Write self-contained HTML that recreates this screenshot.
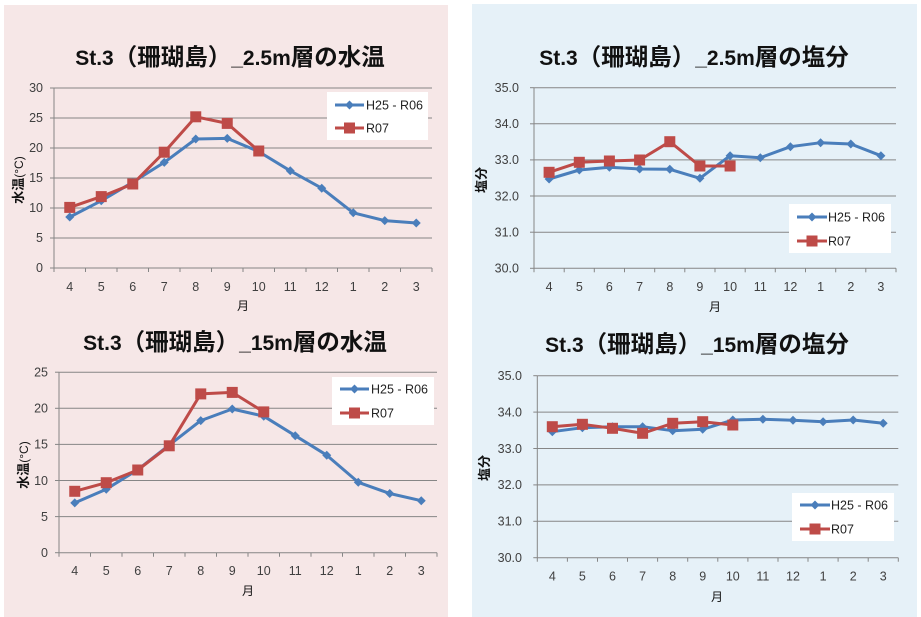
<!DOCTYPE html>
<html><head><meta charset="utf-8">
<style>
html,body{margin:0;padding:0;background:#fff;}
svg{display:block;}
text{font-family:"Liberation Sans","Noto Sans CJK JP",sans-serif;}
.t{font-size:21px;font-weight:bold;fill:#111;}
.t .c{font-size:23.5px;}
.tk{font-size:12.5px;fill:#404040;}
.ax{font-size:12px;fill:#111;}
.yl{font-size:13px;font-weight:bold;fill:#111;}
.lg{font-size:12.5px;fill:#222;}
.grid{stroke:#868686;stroke-width:1;}
.b{fill:none;stroke:#4A7EBB;stroke-width:3;stroke-linejoin:round;}
.r{fill:none;stroke:#BE4B48;stroke-width:3;stroke-linejoin:round;}
</style></head>
<body>
<svg width="921" height="617" viewBox="0 0 921 617" xmlns="http://www.w3.org/2000/svg">
<defs>
<path id="dm" d="M0,-4.5 L4.5,0 L0,4.5 L-4.5,0 Z" fill="#4A7EBB"/>
<rect id="sq" x="-5.5" y="-5.5" width="11" height="11" fill="#BE4B48"/>
</defs>
<rect x="4" y="5" width="444" height="612" fill="#F6E7E7"/>
<rect x="472" y="4" width="445" height="613" fill="#E6F1F8"/>

<!-- ===== TL: 2.5m 水温 ===== -->
<text class="t" x="230" y="65" text-anchor="middle">St.3<tspan class="c">（珊瑚島）</tspan>_2.5m<tspan class="c">層の水温</tspan></text>
<g class="grid">
<line x1="54" y1="88" x2="432" y2="88"/><line x1="54" y1="118" x2="432" y2="118"/>
<line x1="54" y1="148" x2="432" y2="148"/><line x1="54" y1="178" x2="432" y2="178"/>
<line x1="54" y1="208" x2="432" y2="208"/><line x1="54" y1="238" x2="432" y2="238"/>
<line x1="54" y1="268" x2="432" y2="268"/><line x1="54" y1="88" x2="54" y2="268"/>
<line x1="50" y1="88" x2="54" y2="88"/><line x1="50" y1="118" x2="54" y2="118"/><line x1="50" y1="148" x2="54" y2="148"/><line x1="50" y1="178" x2="54" y2="178"/><line x1="50" y1="208" x2="54" y2="208"/><line x1="50" y1="238" x2="54" y2="238"/><line x1="50" y1="268" x2="54" y2="268"/>
<line x1="54" y1="268" x2="54" y2="272"/><line x1="85.5" y1="268" x2="85.5" y2="272"/><line x1="117" y1="268" x2="117" y2="272"/><line x1="148.5" y1="268" x2="148.5" y2="272"/><line x1="180" y1="268" x2="180" y2="272"/><line x1="211.5" y1="268" x2="211.5" y2="272"/><line x1="243" y1="268" x2="243" y2="272"/><line x1="274.5" y1="268" x2="274.5" y2="272"/><line x1="306" y1="268" x2="306" y2="272"/><line x1="337.5" y1="268" x2="337.5" y2="272"/><line x1="369" y1="268" x2="369" y2="272"/><line x1="400.5" y1="268" x2="400.5" y2="272"/><line x1="432" y1="268" x2="432" y2="272"/>
</g>
<g class="tk" text-anchor="end">
<text x="43" y="92">30</text><text x="43" y="122">25</text><text x="43" y="152">20</text><text x="43" y="182">15</text><text x="43" y="212">10</text><text x="43" y="242">5</text><text x="43" y="272">0</text>
</g>
<g class="tk" text-anchor="middle">
<text x="69.75" y="291">4</text><text x="101.25" y="291">5</text><text x="132.75" y="291">6</text><text x="164.25" y="291">7</text><text x="195.75" y="291">8</text><text x="227.25" y="291">9</text><text x="258.75" y="291">10</text><text x="290.25" y="291">11</text><text x="321.75" y="291">12</text><text x="353.25" y="291">1</text><text x="384.75" y="291">2</text><text x="416.25" y="291">3</text>
</g>
<text class="ax" x="243" y="310" text-anchor="middle">月</text>
<text class="yl" transform="translate(23,180) rotate(-90)" text-anchor="middle">水温<tspan font-weight="normal" font-size="12">(°C)</tspan></text>
<polyline class="b" points="69.75,217 101.25,200.8 132.75,182.2 164.25,162.4 195.75,139 227.25,138.4 258.75,151.6 290.25,170.8 321.75,188.2 353.25,212.8 384.75,220.6 416.25,223"/>
<g><use href="#dm" x="69.75" y="217"/><use href="#dm" x="101.25" y="200.8"/><use href="#dm" x="132.75" y="182.2"/><use href="#dm" x="164.25" y="162.4"/><use href="#dm" x="195.75" y="139"/><use href="#dm" x="227.25" y="138.4"/><use href="#dm" x="258.75" y="151.6"/><use href="#dm" x="290.25" y="170.8"/><use href="#dm" x="321.75" y="188.2"/><use href="#dm" x="353.25" y="212.8"/><use href="#dm" x="384.75" y="220.6"/><use href="#dm" x="416.25" y="223"/></g>
<polyline class="r" points="69.75,207.4 101.25,196.6 132.75,184 164.25,152.2 195.75,116.8 227.25,123.4 258.75,151"/>
<g><use href="#sq" x="69.75" y="207.4"/><use href="#sq" x="101.25" y="196.6"/><use href="#sq" x="132.75" y="184"/><use href="#sq" x="164.25" y="152.2"/><use href="#sq" x="195.75" y="116.8"/><use href="#sq" x="227.25" y="123.4"/><use href="#sq" x="258.75" y="151"/></g>
<rect x="327" y="92" width="101" height="48" fill="#fff"/>
<line x1="335" y1="105" x2="364" y2="105" stroke="#4A7EBB" stroke-width="3"/><use href="#dm" x="349.5" y="105"/>
<line x1="335" y1="128" x2="364" y2="128" stroke="#BE4B48" stroke-width="3"/><use href="#sq" x="349.5" y="128"/>
<text class="lg" x="366" y="109.5">H25 - R06</text><text class="lg" x="366" y="132.5">R07</text>

<!-- ===== BL: 15m 水温 ===== -->
<text class="t" x="235" y="350" text-anchor="middle">St.3<tspan class="c">（珊瑚島）</tspan>_15m<tspan class="c">層の水温</tspan></text>
<g class="grid">
<line x1="59" y1="372.2" x2="437" y2="372.2"/><line x1="59" y1="408.3" x2="437" y2="408.3"/>
<line x1="59" y1="444.4" x2="437" y2="444.4"/><line x1="59" y1="480.5" x2="437" y2="480.5"/>
<line x1="59" y1="516.6" x2="437" y2="516.6"/><line x1="59" y1="552.7" x2="437" y2="552.7"/>
<line x1="59" y1="372.2" x2="59" y2="552.7"/>
<line x1="55" y1="372.2" x2="59" y2="372.2"/><line x1="55" y1="408.3" x2="59" y2="408.3"/><line x1="55" y1="444.4" x2="59" y2="444.4"/><line x1="55" y1="480.5" x2="59" y2="480.5"/><line x1="55" y1="516.6" x2="59" y2="516.6"/><line x1="55" y1="552.7" x2="59" y2="552.7"/>
<line x1="59" y1="552.7" x2="59" y2="556.7"/><line x1="90.5" y1="552.7" x2="90.5" y2="556.7"/><line x1="122" y1="552.7" x2="122" y2="556.7"/><line x1="153.5" y1="552.7" x2="153.5" y2="556.7"/><line x1="185" y1="552.7" x2="185" y2="556.7"/><line x1="216.5" y1="552.7" x2="216.5" y2="556.7"/><line x1="248" y1="552.7" x2="248" y2="556.7"/><line x1="279.5" y1="552.7" x2="279.5" y2="556.7"/><line x1="311" y1="552.7" x2="311" y2="556.7"/><line x1="342.5" y1="552.7" x2="342.5" y2="556.7"/><line x1="374" y1="552.7" x2="374" y2="556.7"/><line x1="405.5" y1="552.7" x2="405.5" y2="556.7"/><line x1="437" y1="552.7" x2="437" y2="556.7"/>
</g>
<g class="tk" text-anchor="end">
<text x="48" y="376.5">25</text><text x="48" y="412.6">20</text><text x="48" y="448.7">15</text><text x="48" y="484.8">10</text><text x="48" y="520.9">5</text><text x="48" y="557">0</text>
</g>
<g class="tk" text-anchor="middle">
<text x="74.75" y="575">4</text><text x="106.25" y="575">5</text><text x="137.75" y="575">6</text><text x="169.25" y="575">7</text><text x="200.75" y="575">8</text><text x="232.25" y="575">9</text><text x="263.75" y="575">10</text><text x="295.25" y="575">11</text><text x="326.75" y="575">12</text><text x="358.25" y="575">1</text><text x="389.75" y="575">2</text><text x="421.25" y="575">3</text>
</g>
<text class="ax" x="248" y="595" text-anchor="middle">月</text>
<text class="yl" transform="translate(28,465) rotate(-90)" text-anchor="middle">水温<tspan font-weight="normal" font-size="12">(°C)</tspan></text>
<polyline class="b" points="74.75,502.9 106.25,489.2 137.75,469.7 169.25,445.1 200.75,420.6 232.25,409 263.75,416.2 295.25,435.7 326.75,455.2 358.25,482.3 389.75,493.5 421.25,500.7"/>
<g><use href="#dm" x="74.75" y="502.9"/><use href="#dm" x="106.25" y="489.2"/><use href="#dm" x="137.75" y="469.7"/><use href="#dm" x="169.25" y="445.1"/><use href="#dm" x="200.75" y="420.6"/><use href="#dm" x="232.25" y="409"/><use href="#dm" x="263.75" y="416.2"/><use href="#dm" x="295.25" y="435.7"/><use href="#dm" x="326.75" y="455.2"/><use href="#dm" x="358.25" y="482.3"/><use href="#dm" x="389.75" y="493.5"/><use href="#dm" x="421.25" y="500.7"/></g>
<polyline class="r" points="74.75,491.3 106.25,482.7 137.75,470 169.25,445.8 200.75,393.9 232.25,392.4 263.75,411.9"/>
<g><use href="#sq" x="74.75" y="491.3"/><use href="#sq" x="106.25" y="482.7"/><use href="#sq" x="137.75" y="470"/><use href="#sq" x="169.25" y="445.8"/><use href="#sq" x="200.75" y="393.9"/><use href="#sq" x="232.25" y="392.4"/><use href="#sq" x="263.75" y="411.9"/></g>
<rect x="332" y="377" width="102" height="48" fill="#fff"/>
<line x1="340" y1="389" x2="369" y2="389" stroke="#4A7EBB" stroke-width="3"/><use href="#dm" x="354.5" y="389"/>
<line x1="340" y1="413" x2="369" y2="413" stroke="#BE4B48" stroke-width="3"/><use href="#sq" x="354.5" y="413"/>
<text class="lg" x="371" y="393.5">H25 - R06</text><text class="lg" x="371" y="417.5">R07</text>

<!-- ===== TR: 2.5m 塩分 ===== -->
<text class="t" x="694" y="65" text-anchor="middle">St.3<tspan class="c">（珊瑚島）</tspan>_2.5m<tspan class="c">層の塩分</tspan></text>
<g class="grid">
<line x1="534" y1="87.7" x2="896" y2="87.7"/><line x1="534" y1="123.8" x2="896" y2="123.8"/>
<line x1="534" y1="159.9" x2="896" y2="159.9"/><line x1="534" y1="196" x2="896" y2="196"/>
<line x1="534" y1="232.2" x2="896" y2="232.2"/><line x1="534" y1="268.3" x2="896" y2="268.3"/>
<line x1="534" y1="87.7" x2="534" y2="268.3"/>
<line x1="530" y1="87.7" x2="534" y2="87.7"/><line x1="530" y1="123.8" x2="534" y2="123.8"/><line x1="530" y1="159.9" x2="534" y2="159.9"/><line x1="530" y1="196" x2="534" y2="196"/><line x1="530" y1="232.2" x2="534" y2="232.2"/><line x1="530" y1="268.3" x2="534" y2="268.3"/>
<line x1="534" y1="268.3" x2="534" y2="272.3"/><line x1="564.2" y1="268.3" x2="564.2" y2="272.3"/><line x1="594.3" y1="268.3" x2="594.3" y2="272.3"/><line x1="624.5" y1="268.3" x2="624.5" y2="272.3"/><line x1="654.7" y1="268.3" x2="654.7" y2="272.3"/><line x1="684.8" y1="268.3" x2="684.8" y2="272.3"/><line x1="715" y1="268.3" x2="715" y2="272.3"/><line x1="745.2" y1="268.3" x2="745.2" y2="272.3"/><line x1="775.3" y1="268.3" x2="775.3" y2="272.3"/><line x1="805.5" y1="268.3" x2="805.5" y2="272.3"/><line x1="835.7" y1="268.3" x2="835.7" y2="272.3"/><line x1="865.8" y1="268.3" x2="865.8" y2="272.3"/><line x1="896" y1="268.3" x2="896" y2="272.3"/>
</g>
<g class="tk" text-anchor="end">
<text x="519" y="92">35.0</text><text x="519" y="128.1">34.0</text><text x="519" y="164.2">33.0</text><text x="519" y="200.3">32.0</text><text x="519" y="236.5">31.0</text><text x="519" y="272.6">30.0</text>
</g>
<g class="tk" text-anchor="middle">
<text x="549.1" y="291">4</text><text x="579.3" y="291">5</text><text x="609.4" y="291">6</text><text x="639.6" y="291">7</text><text x="669.8" y="291">8</text><text x="699.9" y="291">9</text><text x="730.1" y="291">10</text><text x="760.3" y="291">11</text><text x="790.4" y="291">12</text><text x="820.6" y="291">1</text><text x="850.8" y="291">2</text><text x="880.9" y="291">3</text>
</g>
<text class="ax" x="715" y="311" text-anchor="middle">月</text>
<text class="yl" transform="translate(486,180) rotate(-90)" text-anchor="middle">塩分</text>
<polyline class="b" points="549.1,179 579.3,170 609.4,167.3 639.6,169 669.8,169.3 699.9,178.3 730.1,155.7 760.3,157.7 790.4,146.7 820.6,142.7 850.8,144 880.9,155.7"/>
<g><use href="#dm" x="549.1" y="179"/><use href="#dm" x="579.3" y="170"/><use href="#dm" x="609.4" y="167.3"/><use href="#dm" x="639.6" y="169"/><use href="#dm" x="669.8" y="169.3"/><use href="#dm" x="699.9" y="178.3"/><use href="#dm" x="730.1" y="155.7"/><use href="#dm" x="760.3" y="157.7"/><use href="#dm" x="790.4" y="146.7"/><use href="#dm" x="820.6" y="142.7"/><use href="#dm" x="850.8" y="144"/><use href="#dm" x="880.9" y="155.7"/></g>
<polyline class="r" points="549.1,172.3 579.3,162.3 609.4,161 639.6,160 669.8,141.7 699.9,166 730.1,166"/>
<g><use href="#sq" x="549.1" y="172.3"/><use href="#sq" x="579.3" y="162.3"/><use href="#sq" x="609.4" y="161"/><use href="#sq" x="639.6" y="160"/><use href="#sq" x="669.8" y="141.7"/><use href="#sq" x="699.9" y="166"/><use href="#sq" x="730.1" y="166"/></g>
<rect x="789" y="204" width="102" height="49" fill="#fff"/>
<line x1="797" y1="217" x2="827" y2="217" stroke="#4A7EBB" stroke-width="3"/><use href="#dm" x="812" y="217"/>
<line x1="797" y1="241" x2="827" y2="241" stroke="#BE4B48" stroke-width="3"/><use href="#sq" x="812" y="241"/>
<text class="lg" x="828" y="221.5">H25 - R06</text><text class="lg" x="828" y="245.5">R07</text>

<!-- ===== BR: 15m 塩分 ===== -->
<text class="t" x="697" y="352" text-anchor="middle">St.3<tspan class="c">（珊瑚島）</tspan>_15m<tspan class="c">層の塩分</tspan></text>
<g class="grid">
<line x1="537.3" y1="375.7" x2="898.3" y2="375.7"/><line x1="537.3" y1="412.1" x2="898.3" y2="412.1"/>
<line x1="537.3" y1="448.5" x2="898.3" y2="448.5"/><line x1="537.3" y1="484.9" x2="898.3" y2="484.9"/>
<line x1="537.3" y1="521.3" x2="898.3" y2="521.3"/><line x1="537.3" y1="557.7" x2="898.3" y2="557.7"/>
<line x1="537.3" y1="375.7" x2="537.3" y2="557.7"/>
<line x1="533.3" y1="375.7" x2="537.3" y2="375.7"/><line x1="533.3" y1="412.1" x2="537.3" y2="412.1"/><line x1="533.3" y1="448.5" x2="537.3" y2="448.5"/><line x1="533.3" y1="484.9" x2="537.3" y2="484.9"/><line x1="533.3" y1="521.3" x2="537.3" y2="521.3"/><line x1="533.3" y1="557.7" x2="537.3" y2="557.7"/>
<line x1="537.3" y1="557.7" x2="537.3" y2="561.7"/><line x1="567.4" y1="557.7" x2="567.4" y2="561.7"/><line x1="597.5" y1="557.7" x2="597.5" y2="561.7"/><line x1="627.5" y1="557.7" x2="627.5" y2="561.7"/><line x1="657.6" y1="557.7" x2="657.6" y2="561.7"/><line x1="687.7" y1="557.7" x2="687.7" y2="561.7"/><line x1="717.8" y1="557.7" x2="717.8" y2="561.7"/><line x1="747.9" y1="557.7" x2="747.9" y2="561.7"/><line x1="778" y1="557.7" x2="778" y2="561.7"/><line x1="808" y1="557.7" x2="808" y2="561.7"/><line x1="838.1" y1="557.7" x2="838.1" y2="561.7"/><line x1="868.2" y1="557.7" x2="868.2" y2="561.7"/><line x1="898.3" y1="557.7" x2="898.3" y2="561.7"/>
</g>
<g class="tk" text-anchor="end">
<text x="522" y="380">35.0</text><text x="522" y="416.4">34.0</text><text x="522" y="452.8">33.0</text><text x="522" y="489.2">32.0</text><text x="522" y="525.6">31.0</text><text x="522" y="562">30.0</text>
</g>
<g class="tk" text-anchor="middle">
<text x="552.3" y="580.5">4</text><text x="582.4" y="580.5">5</text><text x="612.5" y="580.5">6</text><text x="642.6" y="580.5">7</text><text x="672.7" y="580.5">8</text><text x="702.7" y="580.5">9</text><text x="732.8" y="580.5">10</text><text x="762.9" y="580.5">11</text><text x="793" y="580.5">12</text><text x="823.1" y="580.5">1</text><text x="853.2" y="580.5">2</text><text x="883.2" y="580.5">3</text>
</g>
<text class="ax" x="717" y="601" text-anchor="middle">月</text>
<text class="yl" transform="translate(489,468) rotate(-90)" text-anchor="middle">塩分</text>
<polyline class="b" points="552.3,431.7 582.4,427.7 612.5,426.7 642.6,426.7 672.7,430.7 702.7,429.3 732.8,420 762.9,419.3 793,420.3 823.1,421.7 853.2,420 883.2,423.3"/>
<g><use href="#dm" x="552.3" y="431.7"/><use href="#dm" x="582.4" y="427.7"/><use href="#dm" x="612.5" y="426.7"/><use href="#dm" x="642.6" y="426.7"/><use href="#dm" x="672.7" y="430.7"/><use href="#dm" x="702.7" y="429.3"/><use href="#dm" x="732.8" y="420"/><use href="#dm" x="762.9" y="419.3"/><use href="#dm" x="793" y="420.3"/><use href="#dm" x="823.1" y="421.7"/><use href="#dm" x="853.2" y="420"/><use href="#dm" x="883.2" y="423.3"/></g>
<polyline class="r" points="552.3,426.7 582.4,424.3 612.5,428.3 642.6,433.3 672.7,423.3 702.7,421.7 732.8,425"/>
<g><use href="#sq" x="552.3" y="426.7"/><use href="#sq" x="582.4" y="424.3"/><use href="#sq" x="612.5" y="428.3"/><use href="#sq" x="642.6" y="433.3"/><use href="#sq" x="672.7" y="423.3"/><use href="#sq" x="702.7" y="421.7"/><use href="#sq" x="732.8" y="425"/></g>
<rect x="792" y="493" width="102" height="48" fill="#fff"/>
<line x1="800" y1="505" x2="830" y2="505" stroke="#4A7EBB" stroke-width="3"/><use href="#dm" x="815" y="505"/>
<line x1="800" y1="529" x2="830" y2="529" stroke="#BE4B48" stroke-width="3"/><use href="#sq" x="815" y="529"/>
<text class="lg" x="831" y="509.5">H25 - R06</text><text class="lg" x="831" y="533.5">R07</text>
</svg>
</body></html>
